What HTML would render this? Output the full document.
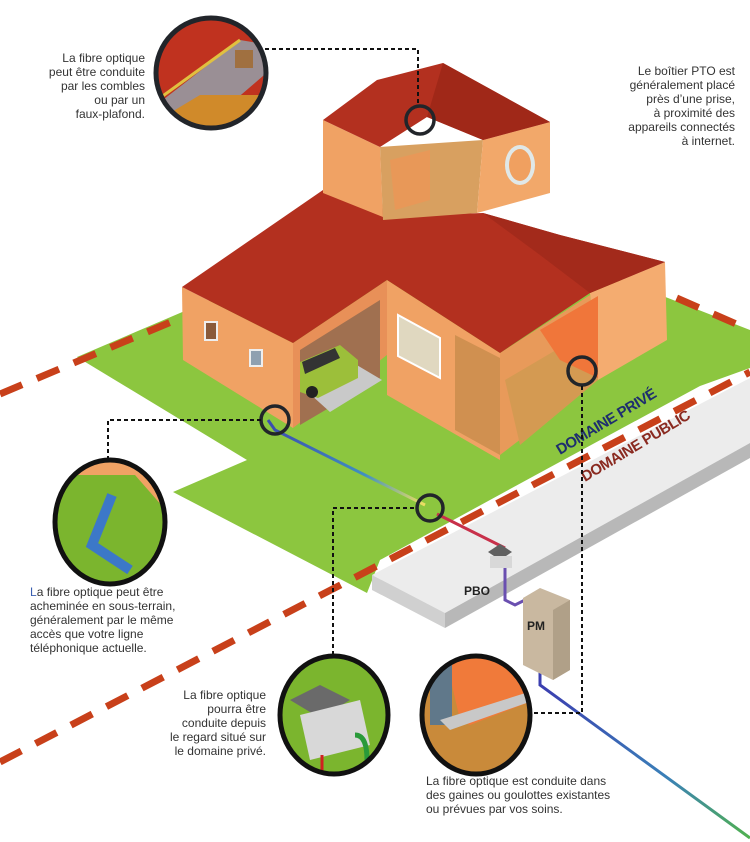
<!DOCTYPE html>
<html><head><meta charset="utf-8"><style>
html,body{margin:0;padding:0;background:#fff}
svg{display:block}
text{font-family:"Liberation Sans",sans-serif;fill:#333;font-size:12px}
</style></head><body>
<svg width="750" height="842" viewBox="0 0 750 842" xmlns="http://www.w3.org/2000/svg">
<defs>
<linearGradient id="f1" x1="275" y1="425" x2="425" y2="505" gradientUnits="userSpaceOnUse">
<stop offset="0" stop-color="#3b4fb0"/><stop offset="0.6" stop-color="#3f8fc0"/><stop offset="1" stop-color="#f0e060"/></linearGradient>
<linearGradient id="f2" x1="545" y1="685" x2="750" y2="835" gradientUnits="userSpaceOnUse">
<stop offset="0" stop-color="#3b3fb0"/><stop offset="0.6" stop-color="#3a80b8"/><stop offset="1" stop-color="#50b050"/></linearGradient>
<clipPath id="c1"><circle cx="211" cy="73" r="54"/></clipPath>
<clipPath id="c2"><ellipse cx="110" cy="522" rx="54" ry="61"/></clipPath>
<clipPath id="c3"><ellipse cx="334" cy="715" rx="53" ry="58"/></clipPath>
<clipPath id="c4"><ellipse cx="476" cy="715" rx="53" ry="58"/></clipPath>
</defs>

<!-- grass -->
<polygon points="77,357 180,313 430,205 750,330 750,368 700,386 545,470 380,560 367,593 173,492 247,460" fill="#8cc63f"/>

<!-- sidewalk -->
<polygon points="372,575 750,378 750,443 445,613" fill="#ececec"/>
<polygon points="372,575 445,613 445,628 372,590" fill="#d0d0d0"/>
<polygon points="445,613 750,443 750,458 445,628" fill="#b8b8b8"/>

<!-- dashed boundaries -->
<line x1="0" y1="762" x2="750" y2="372" stroke="#c8401a" stroke-width="7" stroke-dasharray="24,16"/>
<line x1="0" y1="394" x2="190" y2="314" stroke="#c8401a" stroke-width="7" stroke-dasharray="24,16"/>
<line x1="640" y1="282" x2="750" y2="330" stroke="#c8401a" stroke-width="7" stroke-dasharray="24,16"/>

<!-- house: main walls -->
<polygon points="182,287 293,343 293,428 183,360" fill="#f0a264"/>
<rect x="205" y="322" width="12" height="18" fill="#8a5a3a" stroke="#eee" stroke-width="2"/>
<rect x="250" y="350" width="12" height="16" fill="#8fa0b0" stroke="#eee" stroke-width="2"/>
<polygon points="293,343 387,280 387,355 293,428" fill="#e89058"/>
<polygon points="300,350 380,300 380,378 300,425" fill="#a07050"/>
<polygon points="300,385 345,358 382,380 330,412" fill="#c9c9c9"/>
<polygon points="300,362 340,345 358,360 358,378 318,398 300,392" fill="#9cbf3a"/>
<polygon points="302,362 335,348 340,358 305,374" fill="#333"/>
<circle cx="312" cy="392" r="6" fill="#222"/>
<polygon points="387,280 500,353 500,460 387,395" fill="#f0a264"/>
<polygon points="398,315 440,338 440,378 398,356" fill="#e0d8c0" stroke="#fff" stroke-width="2"/>
<polygon points="455,335 500,358 500,455 455,430" fill="#d09050"/>
<polygon points="500,353 590,295 598,380 500,455" fill="#e89a5a"/>
<polygon points="505,380 590,330 598,380 520,445" fill="#d49a52"/>
<polygon points="590,293 665,262 667,340 598,380" fill="#f4ac70"/>
<polygon points="540,330 598,296 598,378 560,360" fill="#f0763a"/>
<!-- main roof -->
<polygon points="182,287 323,190 420,215 483,213 560,235 665,262 590,293 500,353 387,280 293,343" fill="#b3301f"/>
<polygon points="483,213 560,235 665,262 590,293 540,255" fill="#a32a1b"/>

<!-- tower -->
<polygon points="323,193 383,217 380,147 323,120" fill="#f0a264"/>
<polygon points="380,147 483,140 477,213 383,220" fill="#d8a060"/>
<polygon points="390,160 430,150 430,200 395,210" fill="#e89858"/>
<polygon points="483,140 550,122 550,193 477,213" fill="#f2a86a"/>
<ellipse cx="520" cy="165" rx="15" ry="20" fill="#e0e8e8"/>
<ellipse cx="520" cy="165" rx="11" ry="16" fill="#f0a060"/>
<polygon points="323,120 377,80 443,63 550,122 483,140 427,117 380,147" fill="#b3301f"/>
<polygon points="443,63 550,122 483,140 427,117" fill="#a02818"/>

<!-- fibers -->
<polyline points="268,420 275,430 425,505" fill="none" stroke="url(#f1)" stroke-width="3"/>
<polyline points="437,514 505,548" fill="none" stroke="#c8304a" stroke-width="3"/>
<polyline points="505,560 505,600 515,605 525,600" fill="none" stroke="#6a4fb0" stroke-width="3"/>
<polyline points="540,665 540,685 750,838" fill="none" stroke="url(#f2)" stroke-width="3"/>

<!-- PBO / PM -->
<polygon points="488,552 500,544 512,552 500,560" fill="#606060"/>
<rect x="490" y="556" width="22" height="12" fill="#d8d8d8"/>
<polygon points="523,598 540,588 570,600 570,670 553,680 523,665" fill="#c9b8a0"/>
<polygon points="553,610 570,600 570,670 553,680" fill="#b0a088"/>
<text x="464" y="595" font-weight="bold" style="font-size:12px;fill:#222">PBO</text>
<text x="527" y="630" font-weight="bold" style="font-size:12px;fill:#222">PM</text>

<!-- domaine labels -->
<text transform="translate(560,455) rotate(-31)" font-weight="bold" style="font-size:15px;fill:#1e2e6e;letter-spacing:-0.5px">DOMAINE PRIVÉ</text>
<text transform="translate(585,482) rotate(-31)" font-weight="bold" style="font-size:15px;fill:#8a2a20;letter-spacing:-0.5px">DOMAINE PUBLIC</text>

<!-- small circles -->
<g fill="none" stroke="#22252a" stroke-width="3.5">
<circle cx="420" cy="120" r="14"/>
<circle cx="275" cy="420" r="14"/>
<circle cx="582" cy="371" r="14"/>
<circle cx="430" cy="508" r="13"/>
</g>

<!-- dotted leaders -->
<g fill="none" stroke="#111" stroke-width="2" stroke-dasharray="4,3">
<polyline points="265,49 418,49 418,106"/>
<polyline points="108,460 108,420 261,420"/>
<polyline points="333,655 333,508 416,508"/>
<polyline points="582,386 582,713 530,713"/>
</g>

<!-- big circle 1 -->
<g clip-path="url(#c1)">
<rect x="150" y="15" width="125" height="120" fill="#c0321f"/>
<polygon points="150,110 240,40 270,45 270,70 200,130 150,130" fill="#9a8f95"/>
<polygon points="150,125 200,95 270,95 270,135 150,135" fill="#d08a2a"/>
<line x1="160" y1="98" x2="240" y2="40" stroke="#e0c040" stroke-width="3"/>
<rect x="235" y="50" width="18" height="18" fill="#a07040"/>
</g>
<circle cx="211" cy="73" r="55" fill="none" stroke="#22252a" stroke-width="5"/>

<!-- big circle 2 -->
<g clip-path="url(#c2)">
<rect x="50" y="458" width="120" height="130" fill="#7bb52e"/>
<polygon points="50,458 170,458 170,515 135,475 50,475" fill="#f0a264"/>
<polyline points="112,495 92,545 130,570" fill="none" stroke="#3c78c8" stroke-width="10"/>
</g>
<ellipse cx="110" cy="522" rx="55" ry="62" fill="none" stroke="#111" stroke-width="5"/>

<!-- big circle 3 -->
<g clip-path="url(#c3)">
<rect x="278" y="655" width="115" height="120" fill="#7bb52e"/>
<polygon points="290,700 320,685 350,700 320,718" fill="#6a6a6a"/>
<polygon points="300,715 360,700 370,745 310,760" fill="#d8d8d8"/>
<path d="M355,735 q12,0 12,25" fill="none" stroke="#2a9a3a" stroke-width="5"/>
<line x1="322" y1="755" x2="322" y2="775" stroke="#d02020" stroke-width="3"/>
</g>
<ellipse cx="334" cy="715" rx="54" ry="59" fill="none" stroke="#111" stroke-width="5"/>

<!-- big circle 4 -->
<g clip-path="url(#c4)">
<rect x="420" y="655" width="115" height="120" fill="#c98a3a"/>
<polygon points="445,655 535,655 535,700 470,725 460,720" fill="#f07a3a"/>
<rect x="430" y="655" width="22" height="70" fill="#60788a"/>
<polygon points="440,720 535,690 535,700 450,730" fill="#c8c8c8"/>
</g>
<ellipse cx="476" cy="715" rx="54" ry="59" fill="none" stroke="#111" stroke-width="5"/>

<!-- texts -->
<g text-anchor="end">
<text x="145" y="62">La fibre optique</text>
<text x="145" y="76">peut être conduite</text>
<text x="145" y="90">par les combles</text>
<text x="145" y="104">ou par un</text>
<text x="145" y="118">faux-plafond.</text>
<text x="735" y="75">Le boîtier PTO est</text>
<text x="735" y="89">généralement placé</text>
<text x="735" y="103">près d’une prise,</text>
<text x="735" y="117">à proximité des</text>
<text x="735" y="131">appareils connectés</text>
<text x="735" y="145">à internet.</text>
<text x="266" y="699">La fibre optique</text>
<text x="266" y="713">pourra être</text>
<text x="266" y="727">conduite depuis</text>
<text x="266" y="741">le regard situé sur</text>
<text x="266" y="755">le domaine privé.</text>
</g>
<text x="30" y="596"><tspan style="fill:#3a5fb0">L</tspan>a fibre optique peut être</text>
<text x="30" y="610">acheminée en sous-terrain,</text>
<text x="30" y="624">généralement par le même</text>
<text x="30" y="638">accès que votre ligne</text>
<text x="30" y="652">téléphonique actuelle.</text>
<text x="426" y="785">La fibre optique est conduite dans</text>
<text x="426" y="799">des gaines ou goulottes existantes</text>
<text x="426" y="813">ou prévues par vos soins.</text>
</svg>
</body></html>
